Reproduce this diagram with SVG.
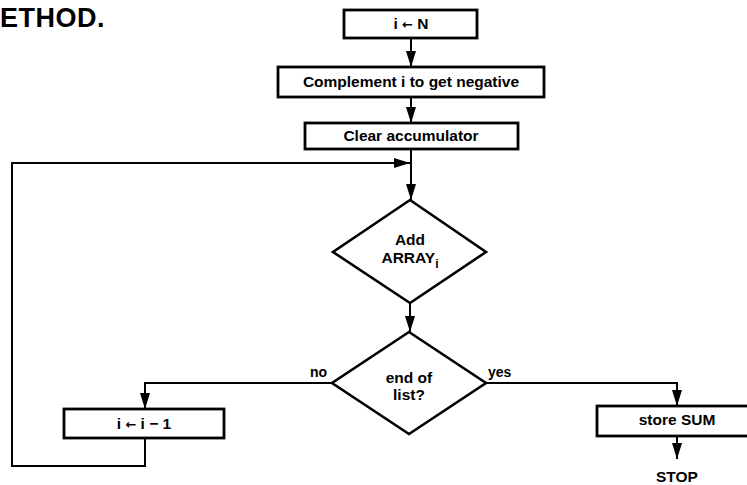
<svg xmlns="http://www.w3.org/2000/svg" width="747" height="485" viewBox="0 0 747 485">
<defs>
<style>
.box{fill:#fff;stroke:#000;stroke-width:2.8}
.dia{fill:#fff;stroke:#000;stroke-width:2.6;stroke-linejoin:miter}
.ln{fill:none;stroke:#000;stroke-width:2}
.t{font-family:"Liberation Sans",Arial,sans-serif;font-weight:bold;font-size:15.5px;fill:#000;text-anchor:middle}
.lbl{font-family:"Liberation Sans",Arial,sans-serif;font-weight:bold;font-size:14px;fill:#000}
.arr{font-family:"DejaVu Sans",sans-serif;font-weight:bold}
</style>
<marker id="ah" markerUnits="userSpaceOnUse" markerWidth="16" markerHeight="10" viewBox="0 0 16 10" refX="16" refY="5" orient="auto">
<path d="M0,0 L16,5 L0,10 Z" fill="#000"/>
</marker>
</defs>
<rect width="747" height="485" fill="#fff"/>
<text x="0" y="27" style="font-family:'Liberation Sans',Arial,sans-serif;font-weight:bold;font-size:27px;letter-spacing:0.5px">ETHOD.</text>

<g id="connectors">
<line class="ln" x1="411" y1="38" x2="411" y2="67" marker-end="url(#ah)"/>
<line class="ln" x1="411" y1="97" x2="411" y2="123" marker-end="url(#ah)"/>
<line class="ln" x1="411" y1="149" x2="411" y2="200" marker-end="url(#ah)"/>
<line class="ln" x1="410" y1="303" x2="410" y2="332" marker-end="url(#ah)"/>
<polyline class="ln" points="332,383 145,383 145,409" marker-end="url(#ah)"/>
<polyline class="ln" points="145,438 145,466 12,466 12,163 410,163" marker-end="url(#ah)"/>
<polyline class="ln" points="486,383 677,383 677,406" marker-end="url(#ah)"/>
<line class="ln" x1="677" y1="436" x2="677" y2="459" marker-end="url(#ah)"/>
<text class="lbl" x="310" y="377">no</text>
<text class="lbl" x="488" y="377">yes</text>
</g>

<g id="n-init">
<rect class="box" x="344" y="10" width="133" height="28"/>
<text class="t" x="411" y="29">i <tspan class="arr" font-size="13">←</tspan> N</text>
</g>
<g id="n-complement">
<rect class="box" x="278" y="67" width="266" height="30"/>
<text class="t" x="411" y="87">Complement i to get negative</text>
</g>
<g id="n-clear">
<rect class="box" x="305" y="123" width="213" height="26"/>
<text class="t" x="411" y="141">Clear accumulator</text>
</g>
<g id="n-add">
<polygon class="dia" points="410,200 486,252 410,303 333,252"/>
<text class="t" x="410" y="245">Add</text>
<text class="t" x="410" y="263">ARRAY<tspan font-size="12" dy="5">i</tspan></text>
</g>
<g id="n-end">
<polygon class="dia" points="409,332 486,383 409,434 332,383"/>
<text class="t" x="409" y="383">end of</text>
<text class="t" x="409" y="400">list?</text>
</g>
<g id="n-dec">
<rect class="box" x="64" y="409" width="160" height="29"/>
<text class="t" x="144" y="429">i <tspan class="arr" font-size="13">←</tspan> i − 1</text>
</g>
<g id="n-store">
<rect class="box" x="597" y="406" width="160" height="30"/>
<text class="t" x="677" y="425">store SUM</text>
</g>
<g id="n-stop">
<text class="t" x="677" y="482">STOP</text>
</g>
</svg>
